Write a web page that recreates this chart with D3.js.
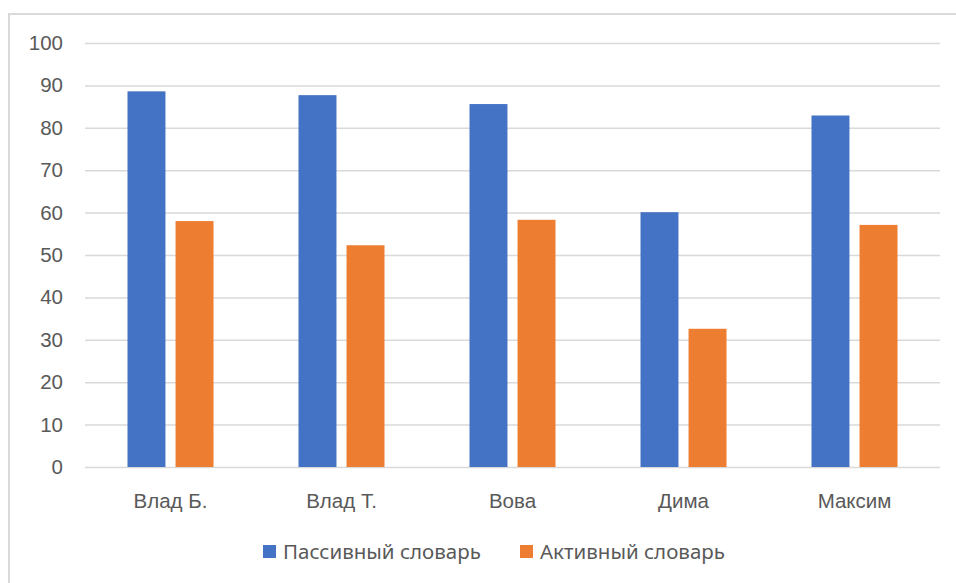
<!DOCTYPE html>
<html>
<head>
<meta charset="utf-8">
<script src="https://cdn.jsdelivr.net/npm/d3@7"></script>
<style>
  html, body { margin: 0; padding: 0; background: #fff; }
  svg { display: block; font-family: "Noto Sans", "Open Sans", sans-serif; }
</style>
</head>
<body>
<div id="chart"></div>
<script>
// ── Data ────────────────────────────────────────────────────────────────
const categories = ["Влад Б.", "Влад Т.", "Вова", "Дима", "Максим"];
const seriesNames = ["Пассивный словарь", "Активный словарь"];
const passive = [88.6, 87.7, 85.6, 60.1, 82.9];
const active  = [58.0, 52.3, 58.3, 32.6, 57.1];
const yTicks = [0, 10, 20, 30, 40, 50, 60, 70, 80, 90, 100];

// ── Palette ─────────────────────────────────────────────────────────────
const COLORS = ["#4472c4", "#ed7d31"];
const TEXT_C = "#595959";
const GRID_C = "#d9d9d9";
const FONT = "20.5px";

const W = 956, H = 583;
const margin = { top: 43, right: 16, bottom: 116, left: 85 };
const width = W - margin.left - margin.right;
const height = H - margin.top - margin.bottom;

const svg = d3.select("#chart").append("svg")
  .attr("width", W).attr("height", H);

// chart frame (top + left edges visible)
svg.append("path")
  .attr("d", `M9,${H} L9,14 L${W},14`)
  .attr("fill", "none").attr("stroke", GRID_C).attr("stroke-width", 2);

const g = svg.append("g").attr("transform", `translate(${margin.left},${margin.top})`);

const x0 = d3.scaleBand().domain(categories).range([0, width]);
const x1 = d3.scaleBand().domain(seriesNames)
  .range([x0.bandwidth() / 2 - 43, x0.bandwidth() / 2 + 43])
  .paddingInner(0.21);
const y = d3.scaleLinear().domain([0, 100]).range([height, 0]);

// grid
g.append("g")
  .call(d3.axisLeft(y).tickValues(yTicks).tickSize(-width).tickFormat(""))
  .call(s => s.select(".domain").remove())
  .selectAll("line").attr("stroke", GRID_C).attr("stroke-width", 1.5);

// y labels
g.append("g")
  .call(d3.axisLeft(y).tickValues(yTicks).tickSize(0).tickPadding(22))
  .call(s => s.select(".domain").remove())
  .selectAll("text").attr("fill", TEXT_C).style("font-size", FONT);

// bars
const rows = categories.map((c, i) => ({ cat: c, vals: [passive[i], active[i]] }));
const grp = g.selectAll(".grp").data(rows).enter().append("g")
  .attr("transform", d => `translate(${x0(d.cat)},0)`);
grp.selectAll("rect")
  .data(d => d.vals.map((v, k) => ({ name: seriesNames[k], v, k })))
  .enter().append("rect")
  .attr("x", d => x1(d.name))
  .attr("width", x1.bandwidth())
  .attr("y", d => y(d.v))
  .attr("height", d => y(0) - y(d.v))
  .attr("fill", d => COLORS[d.k]);

// x labels
g.append("g").attr("transform", `translate(0,${height})`)
  .call(d3.axisBottom(x0).tickSize(0).tickPadding(26))
  .call(s => s.select(".domain").remove())
  .selectAll("text").attr("fill", TEXT_C).style("font-size", FONT);

// legend
const legend = svg.append("g").attr("transform", "translate(0,552)");
const legX = [263, 520];
seriesNames.forEach((n, i) => {
  legend.append("rect").attr("x", legX[i]).attr("y", -7).attr("width", 13).attr("height", 13)
    .attr("fill", COLORS[i]);
  legend.append("text").attr("x", legX[i] + 20).attr("y", 0).attr("dy", "0.35em")
    .attr("fill", TEXT_C).style("font-size", FONT).text(n);
});
</script>
</body>
</html>
